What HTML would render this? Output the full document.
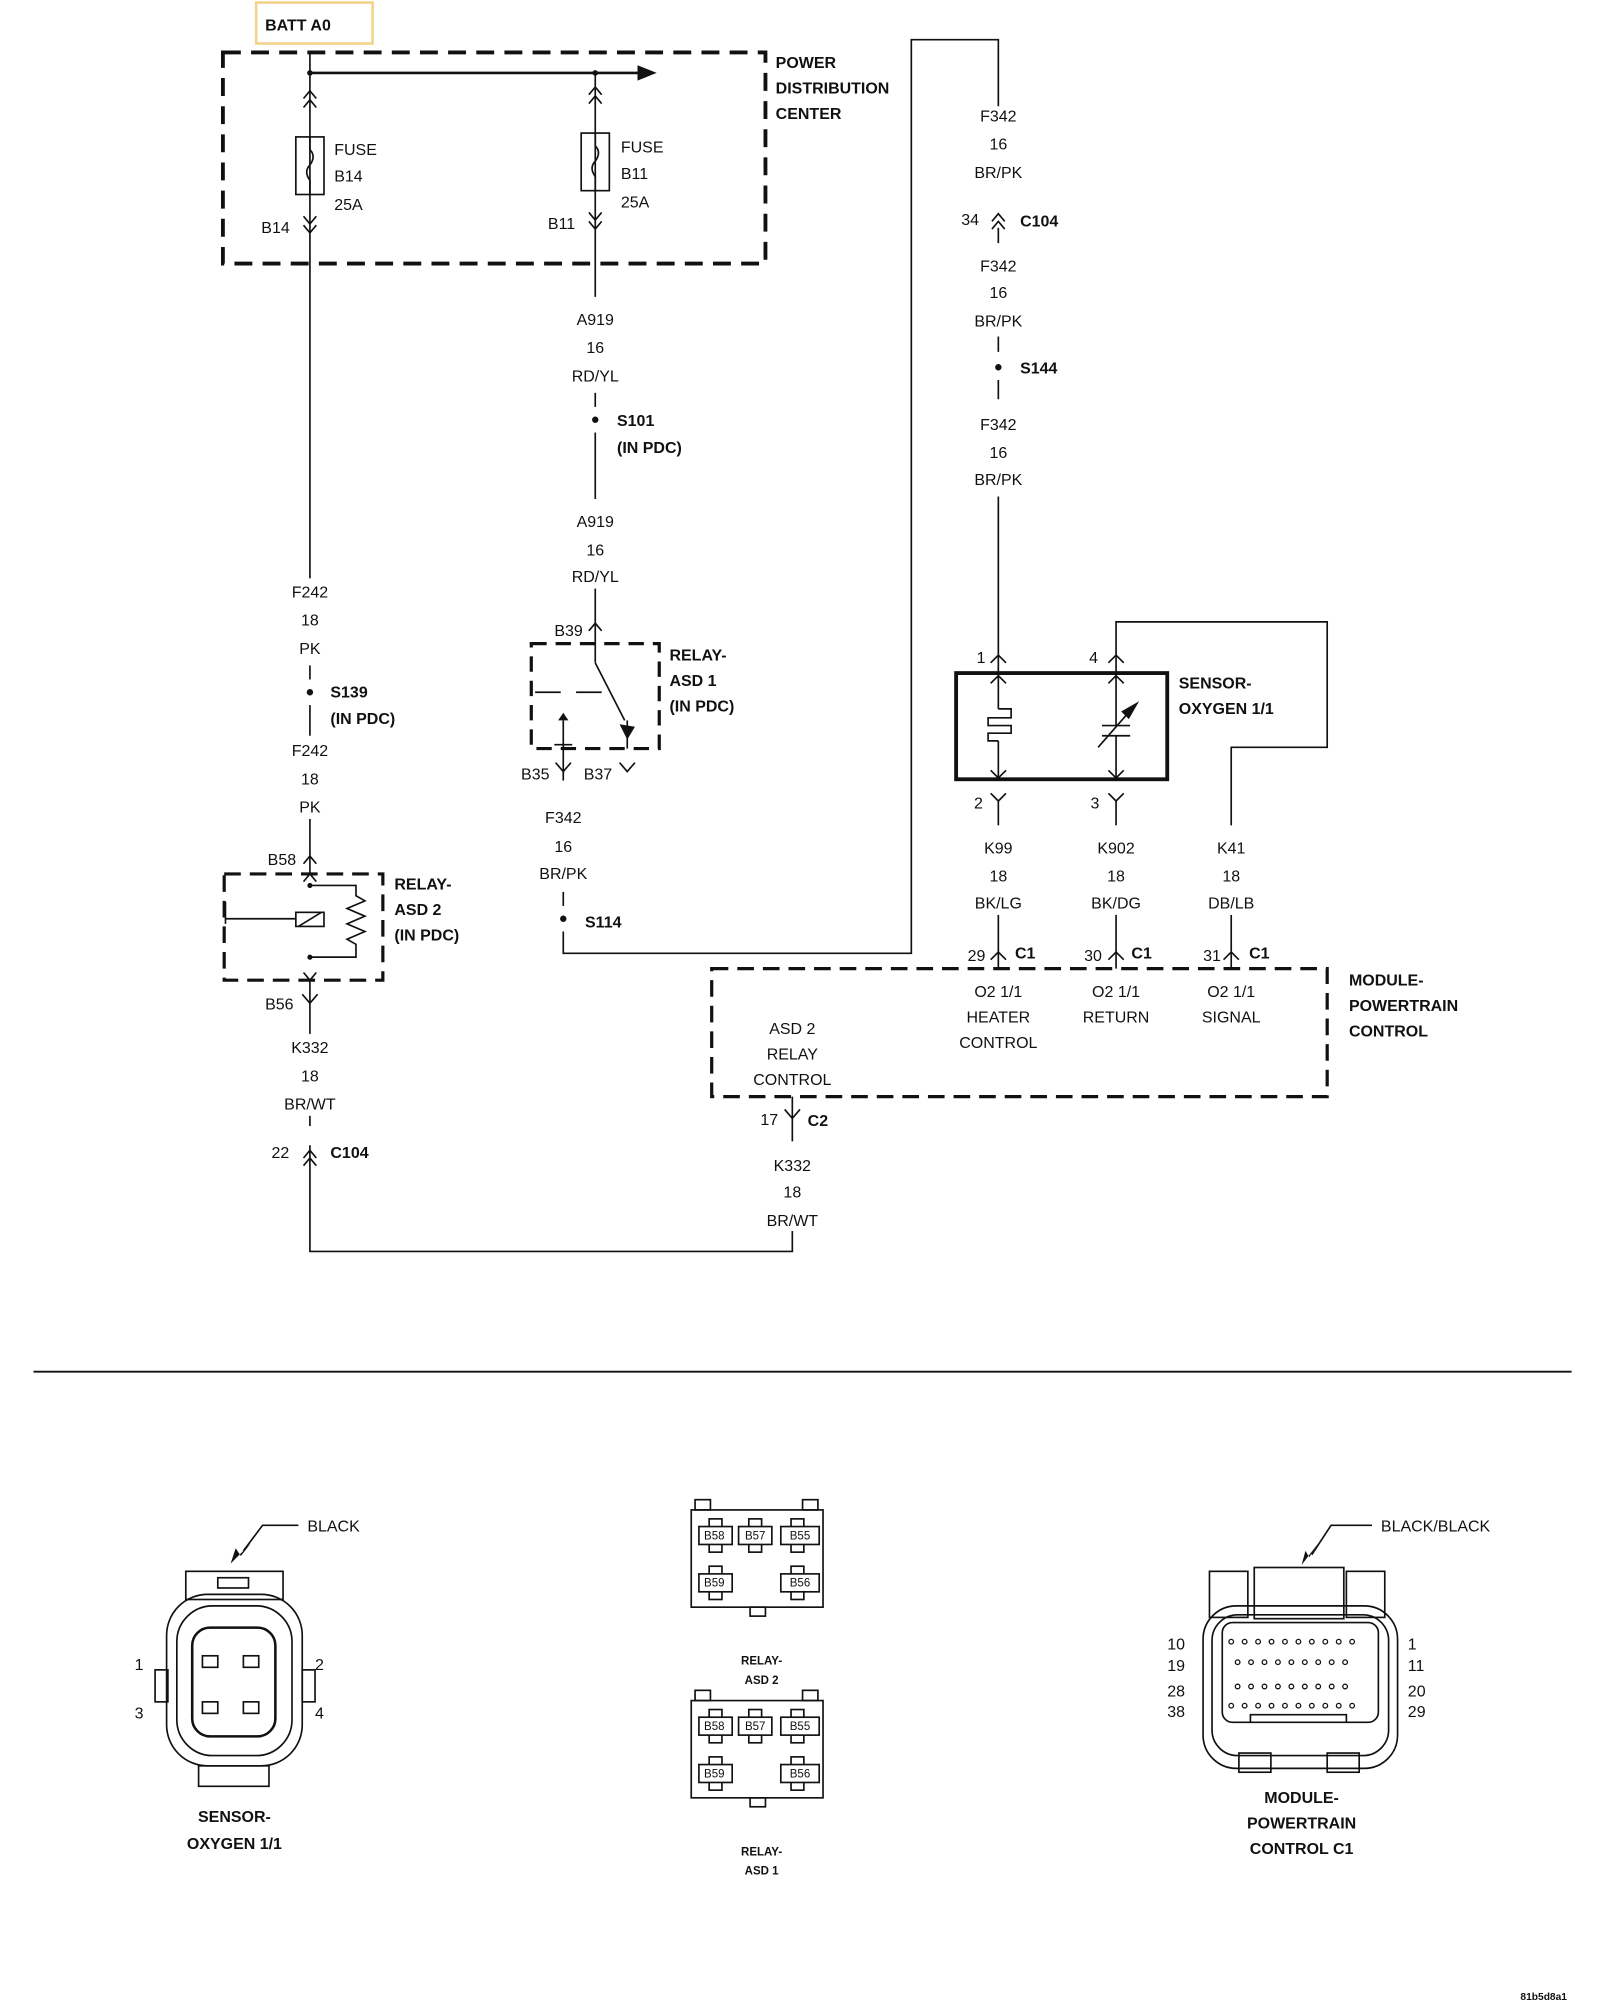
<!DOCTYPE html>
<html><head><meta charset="utf-8"><style>
html,body{margin:0;padding:0;background:#fff;}
svg{display:block;}
text{font-family:"Liberation Sans",sans-serif;font-size:12.5px;fill:#111;}
.b{font-weight:bold;}
.s{font-size:9px;}
</style></head><body>
<svg width="1600" height="2000" viewBox="0 0 1250 1563" xmlns="http://www.w3.org/2000/svg">
<g fill="none" stroke="#111" stroke-width="1.3">
<rect x="200" y="2" width="91" height="32" stroke="#f3d38a" stroke-width="2"/>
<rect x="174" y="41" width="424" height="165" stroke-width="3" stroke-dasharray="14,8"/>
<line x1="242" y1="57" x2="500" y2="57" stroke-width="2"/>
<line x1="242" y1="41" x2="242" y2="452"/>
<polyline points="237,77 242,71 247,77"/><polyline points="237,84 242,78 247,84"/>
<rect x="231" y="107" width="22" height="45"/>
<path d="M242,107 v10 q5,5 0,12 q-5,5 0,12 v11"/>
<polyline points="237,169 242,175 247,169"/><polyline points="237,176 242,182 247,176"/>
<line x1="242" y1="520" x2="242" y2="531"/><line x1="242" y1="551" x2="242" y2="575"/>
<line x1="242" y1="640" x2="242" y2="683"/>
<polyline points="237,675 242,669 247,675"/>
<line x1="465" y1="57" x2="465" y2="232"/>
<polyline points="460,74 465,68 470,74"/><polyline points="460,81 465,75 470,81"/>
<rect x="454" y="104" width="22" height="45"/>
<path d="M465,104 v10 q5,5 0,12 q-5,5 0,12 v11"/>
<polyline points="460,166 465,172 470,166"/><polyline points="460,173 465,179 470,173"/>
<line x1="465" y1="307" x2="465" y2="318"/><line x1="465" y1="338" x2="465" y2="390"/>
<line x1="465" y1="460" x2="465" y2="503"/>
<polyline points="460,493 465,487 470,493"/>
<rect x="415" y="503" width="100" height="82" stroke-width="2.5" stroke-dasharray="12,7"/>
<line x1="465" y1="503" x2="465" y2="518"/>
<line x1="465" y1="518" x2="488" y2="563"/>
<line x1="418" y1="541" x2="438" y2="541"/><line x1="450" y1="541" x2="470" y2="541"/>
<line x1="490" y1="563" x2="490" y2="585"/>
<line x1="440" y1="563" x2="440" y2="585"/><line x1="433" y1="582" x2="447" y2="582"/>
<line x1="440" y1="585" x2="440" y2="610"/>
<polyline points="434,596 440,603 446,596"/>
<polyline points="484,596 490,603 496,596"/>
<line x1="440" y1="697" x2="440" y2="708"/>
<polyline points="440,728 440,745 712,745 712,31 780,31 780,83"/>
<polyline points="775,173 780,167 785,173"/><polyline points="775,179 780,173 785,179"/>
<line x1="780" y1="178" x2="780" y2="190"/>
<line x1="780" y1="263" x2="780" y2="275"/><line x1="780" y1="297" x2="780" y2="312"/>
<line x1="780" y1="388" x2="780" y2="526"/>
<polyline points="774,518 780,512 786,518"/>
<rect x="747" y="526" width="165" height="83" stroke-width="3"/>
<line x1="780" y1="526" x2="780" y2="554"/>
<path d="M780,554 h10 v7 h-18 v6 h18 v6 h-18 v6 h8"/>
<line x1="780" y1="579" x2="780" y2="609"/>
<polyline points="774,534 780,528 786,534"/><polyline points="774,602 780,608 786,602"/>
<line x1="872" y1="514" x2="872" y2="567"/><line x1="872" y1="575" x2="872" y2="609"/>
<line x1="861" y1="567" x2="883" y2="567"/><line x1="861" y1="575" x2="883" y2="575"/>
<line x1="858" y1="584" x2="886" y2="552"/>
<polyline points="866,534 872,528 878,534"/><polyline points="866,602 872,608 878,602"/>
<polyline points="872,514 872,486 1037,486 1037,584 962,584 962,645"/>
<polyline points="866,518 872,512 878,518"/>
<polyline points="774,620 780,626 786,620"/><line x1="780" y1="626" x2="780" y2="645"/>
<polyline points="866,620 872,626 878,620"/><line x1="872" y1="626" x2="872" y2="645"/>
<line x1="780" y1="715" x2="780" y2="757"/><polyline points="774,750 780,744 786,750"/>
<line x1="872" y1="715" x2="872" y2="757"/><polyline points="866,750 872,744 878,750"/>
<line x1="962" y1="715" x2="962" y2="757"/><polyline points="956,750 962,744 968,750"/>
<rect x="556" y="757" width="481" height="100" stroke-width="2.5" stroke-dasharray="13,7"/>
<line x1="619" y1="857" x2="619" y2="892"/><polyline points="613,867 619,874 625,867"/>
<polyline points="619,962 619,978 242,978 242,895"/>
<polyline points="237,905 242,899 247,905"/><polyline points="237,911 242,905 247,911"/>
<line x1="242" y1="872" x2="242" y2="880"/>
<line x1="242" y1="766" x2="242" y2="808"/><polyline points="236,777 242,784 248,777"/>
<rect x="175" y="683" width="124" height="83" stroke-width="2.5" stroke-dasharray="13,7"/>
<polyline points="242,692 278,692 278,700 285,704 271,710 285,716 271,722 285,728 271,734 278,738 278,748 242,748"/>
<rect x="231" y="713" width="22" height="11"/>
<line x1="233" y1="724" x2="251" y2="713"/>
<line x1="176" y1="718" x2="231" y2="718"/><line x1="176" y1="705" x2="176" y2="722"/>
<polyline points="237,689 242,683 247,689"/><polyline points="237,760 242,766 247,760"/>
<line x1="26" y1="1072" x2="1228" y2="1072" stroke-width="1.5"/>
<polyline points="233,1192 205,1192 190,1212"/>
<rect x="145" y="1228" width="76" height="22"/><rect x="170" y="1233" width="24" height="8"/>
<rect x="121" y="1305" width="10" height="25"/><rect x="236" y="1305" width="10" height="25"/>
<rect x="130" y="1246" width="106" height="134" rx="32"/>
<rect x="138" y="1255" width="90" height="117" rx="28"/>
<rect x="150" y="1272" width="65" height="85" rx="14" stroke-width="2"/>
<rect x="158" y="1294" width="12" height="9"/><rect x="190" y="1294" width="12" height="9"/>
<rect x="158" y="1330" width="12" height="9"/><rect x="190" y="1330" width="12" height="9"/>
<rect x="155" y="1380" width="55" height="16"/>
<g id="rl">
<rect x="540" y="1180" width="103" height="76"/>
<rect x="543" y="1172" width="12" height="8"/><rect x="627" y="1172" width="12" height="8"/>
<rect x="586" y="1256" width="12" height="7"/>
<rect x="554" y="1187" width="10" height="26"/><rect x="546" y="1193" width="26" height="14" fill="#fff"/>
<rect x="585" y="1187" width="10" height="26"/><rect x="577" y="1193" width="26" height="14" fill="#fff"/>
<rect x="618" y="1187" width="10" height="26"/><rect x="610" y="1193" width="30" height="14" fill="#fff"/>
<rect x="554" y="1224" width="10" height="26"/><rect x="546" y="1230" width="26" height="14" fill="#fff"/>
<rect x="618" y="1224" width="10" height="26"/><rect x="610" y="1230" width="30" height="14" fill="#fff"/>
</g>
<use href="#rl" y="149"/>
<polyline points="1072,1192 1040,1192 1025,1215"/>
<rect x="945" y="1228" width="30" height="36"/><rect x="1052" y="1228" width="30" height="36"/>
<rect x="980" y="1225" width="70" height="40"/>
<rect x="940" y="1255" width="152" height="127" rx="26"/>
<rect x="947" y="1262" width="138" height="110" rx="20"/>
<rect x="955" y="1268" width="122" height="78" rx="8"/>
<polyline points="977,1346 977,1340 1052,1340 1052,1346"/>
<rect x="968" y="1370" width="25" height="15"/><rect x="1037" y="1370" width="25" height="15"/>
</g>
<g fill="#111">
<polygon points="498,51 513,57 498,63"/>
<circle cx="242" cy="57" r="2.2"/><circle cx="465" cy="57" r="2.2"/>
<circle cx="465" cy="328" r="2.5"/><circle cx="242" cy="541" r="2.5"/>
<circle cx="440" cy="718" r="2.5"/><circle cx="780" cy="287" r="2.5"/>
<circle cx="242" cy="692" r="2"/><circle cx="242" cy="748" r="2"/>
<polygon points="484,566 496,568 490,578"/>
<polygon points="876,556 890,548 882,562"/>
<polygon points="436,563 444,563 440,557"/>
<polygon points="180,1222 196,1206 188,1216 184,1210"/>
<polygon points="1017,1223 1030,1206 1023,1217 1020,1212"/>
</g>
<g fill="none" stroke="#111" stroke-width="1">
<circle cx="962" cy="1283" r="1.8"/><circle cx="972.5" cy="1283" r="1.8"/><circle cx="983" cy="1283" r="1.8"/><circle cx="993.5" cy="1283" r="1.8"/><circle cx="1004" cy="1283" r="1.8"/><circle cx="1014.5" cy="1283" r="1.8"/><circle cx="1025" cy="1283" r="1.8"/><circle cx="1035.5" cy="1283" r="1.8"/><circle cx="1046" cy="1283" r="1.8"/><circle cx="1056.5" cy="1283" r="1.8"/>
<circle cx="967" cy="1299" r="1.8"/><circle cx="977.5" cy="1299" r="1.8"/><circle cx="988" cy="1299" r="1.8"/><circle cx="998.5" cy="1299" r="1.8"/><circle cx="1009" cy="1299" r="1.8"/><circle cx="1019.5" cy="1299" r="1.8"/><circle cx="1030" cy="1299" r="1.8"/><circle cx="1040.5" cy="1299" r="1.8"/><circle cx="1051" cy="1299" r="1.8"/>
<circle cx="967" cy="1318" r="1.8"/><circle cx="977.5" cy="1318" r="1.8"/><circle cx="988" cy="1318" r="1.8"/><circle cx="998.5" cy="1318" r="1.8"/><circle cx="1009" cy="1318" r="1.8"/><circle cx="1019.5" cy="1318" r="1.8"/><circle cx="1030" cy="1318" r="1.8"/><circle cx="1040.5" cy="1318" r="1.8"/><circle cx="1051" cy="1318" r="1.8"/>
<circle cx="962" cy="1333" r="1.8"/><circle cx="972.5" cy="1333" r="1.8"/><circle cx="983" cy="1333" r="1.8"/><circle cx="993.5" cy="1333" r="1.8"/><circle cx="1004" cy="1333" r="1.8"/><circle cx="1014.5" cy="1333" r="1.8"/><circle cx="1025" cy="1333" r="1.8"/><circle cx="1035.5" cy="1333" r="1.8"/><circle cx="1046" cy="1333" r="1.8"/><circle cx="1056.5" cy="1333" r="1.8"/>
</g>
<text x="207" y="24" class="b">BATT A0</text>
<text x="606" y="53" class="b">POWER</text><text x="606" y="73" class="b">DISTRIBUTION</text><text x="606" y="93" class="b">CENTER</text>
<text x="261" y="121">FUSE</text><text x="261" y="142">B14</text><text x="261" y="164">25A</text><text x="204" y="182">B14</text>
<text x="485" y="119">FUSE</text><text x="485" y="140">B11</text><text x="485" y="162">25A</text><text x="428" y="179">B11</text>
<g text-anchor="middle">
<text x="465" y="254">A919</text><text x="465" y="276">16</text><text x="465" y="298">RD/YL</text>
<text x="465" y="412">A919</text><text x="465" y="434">16</text><text x="465" y="455">RD/YL</text>
<text x="242" y="467">F242</text><text x="242" y="489">18</text><text x="242" y="511">PK</text>
<text x="242" y="591">F242</text><text x="242" y="613">18</text><text x="242" y="635">PK</text>
<text x="440" y="643">F342</text><text x="440" y="666">16</text><text x="440" y="687">BR/PK</text>
<text x="780" y="95">F342</text><text x="780" y="117">16</text><text x="780" y="139">BR/PK</text>
<text x="780" y="212">F342</text><text x="780" y="233">16</text><text x="780" y="255">BR/PK</text>
<text x="780" y="336">F342</text><text x="780" y="358">16</text><text x="780" y="379">BR/PK</text>
<text x="780" y="667">K99</text><text x="780" y="689">18</text><text x="780" y="710">BK/LG</text>
<text x="872" y="667">K902</text><text x="872" y="689">18</text><text x="872" y="710">BK/DG</text>
<text x="962" y="667">K41</text><text x="962" y="689">18</text><text x="962" y="710">DB/LB</text>
<text x="780" y="779">O2 1/1</text><text x="780" y="799">HEATER</text><text x="780" y="819">CONTROL</text>
<text x="872" y="779">O2 1/1</text><text x="872" y="799">RETURN</text>
<text x="962" y="779">O2 1/1</text><text x="962" y="799">SIGNAL</text>
<text x="619" y="808">ASD 2</text><text x="619" y="828">RELAY</text><text x="619" y="848">CONTROL</text>
<text x="619" y="915">K332</text><text x="619" y="936">18</text><text x="619" y="958">BR/WT</text>
<text x="242" y="823">K332</text><text x="242" y="845">18</text><text x="242" y="867">BR/WT</text>
<text x="183" y="1424" class="b">SENSOR-</text><text x="183" y="1445" class="b">OXYGEN 1/1</text>
<text x="595" y="1301" class="b s">RELAY-</text><text x="595" y="1316" class="b s">ASD 2</text>
<text x="595" y="1450" class="b s">RELAY-</text><text x="595" y="1465" class="b s">ASD 1</text>
<text x="1017" y="1409" class="b">MODULE-</text><text x="1017" y="1429" class="b">POWERTRAIN</text><text x="1017" y="1449" class="b">CONTROL C1</text>
</g>
<text x="482" y="333" class="b">S101</text><text x="482" y="354" class="b">(IN PDC)</text>
<text x="433" y="497">B39</text>
<text x="523" y="516" class="b">RELAY-</text><text x="523" y="536" class="b">ASD 1</text><text x="523" y="556" class="b">(IN PDC)</text>
<text x="407" y="609">B35</text><text x="456" y="609">B37</text>
<text x="457" y="725" class="b">S114</text>
<text x="751" y="176">34</text><text x="797" y="177" class="b">C104</text>
<text x="797" y="292" class="b">S144</text>
<text x="763" y="518">1</text><text x="851" y="518">4</text>
<text x="921" y="538" class="b">SENSOR-</text><text x="921" y="558" class="b">OXYGEN 1/1</text>
<text x="761" y="632">2</text><text x="852" y="632">3</text>
<text x="756" y="751">29</text><text x="793" y="749" class="b">C1</text>
<text x="847" y="751">30</text><text x="884" y="749" class="b">C1</text>
<text x="940" y="751">31</text><text x="976" y="749" class="b">C1</text>
<text x="1054" y="770" class="b">MODULE-</text><text x="1054" y="790" class="b">POWERTRAIN</text><text x="1054" y="810" class="b">CONTROL</text>
<text x="594" y="879">17</text><text x="631" y="880" class="b">C2</text>
<text x="212" y="905">22</text><text x="258" y="905" class="b">C104</text>
<text x="258" y="545" class="b">S139</text><text x="258" y="566" class="b">(IN PDC)</text>
<text x="209" y="676">B58</text><text x="207" y="789">B56</text>
<text x="308" y="695" class="b">RELAY-</text><text x="308" y="715" class="b">ASD 2</text><text x="308" y="735" class="b">(IN PDC)</text>
<text x="240" y="1197">BLACK</text>
<text x="105" y="1305">1</text><text x="246" y="1305">2</text><text x="105" y="1343">3</text><text x="246" y="1343">4</text>
<g>
<text x="550" y="1203" class="s">B58</text><text x="582" y="1203" class="s">B57</text><text x="617" y="1203" class="s">B55</text>
<text x="550" y="1240" class="s">B59</text><text x="617" y="1240" class="s">B56</text>
<text x="550" y="1352" class="s">B58</text><text x="582" y="1352" class="s">B57</text><text x="617" y="1352" class="s">B55</text>
<text x="550" y="1389" class="s">B59</text><text x="617" y="1389" class="s">B56</text>
</g>
<text x="1079" y="1197">BLACK/BLACK</text>
<text x="912" y="1289">10</text><text x="912" y="1306">19</text><text x="912" y="1326">28</text><text x="912" y="1342">38</text>
<text x="1100" y="1289">1</text><text x="1100" y="1306">11</text><text x="1100" y="1326">20</text><text x="1100" y="1342">29</text>
<text x="1188" y="1563" class="b" style="font-size:8px">81b5d8a1</text>
</svg>
</body></html>
